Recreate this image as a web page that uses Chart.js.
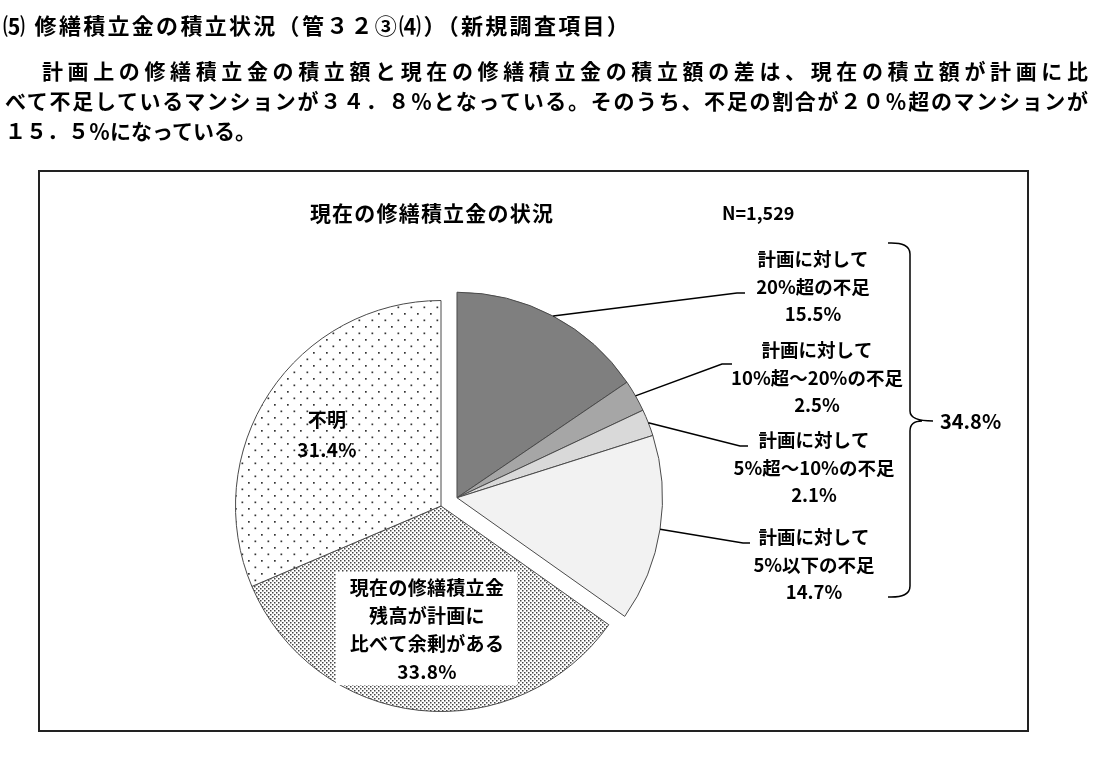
<!DOCTYPE html>
<html>
<head>
<meta charset="utf-8">
<script src="https://cdn.jsdelivr.net/npm/chart.js@4/dist/chart.umd.min.js"></script>
<style>
  body { margin: 0; background: #fff; width: 1103px; height: 757px; overflow: hidden; position: relative;
         font-family: "Noto Sans CJK JP", sans-serif; font-weight: bold; color: #000; }
  .t { position: absolute; line-height: 30px; }
  .j { text-align: justify; text-align-last: justify; }
  canvas { position: absolute; left: 0; top: 0; }
</style>
</head>
<body>
<canvas id="pie" width="1103" height="757"></canvas>
<div class="t" style="left:3px;top:9px;font-size:22px;letter-spacing:2.3px;white-space:nowrap">⑸ 修繕積立金の積立状況（管３２③⑷）（新規調査項目）</div>
<div class="t j" style="left:42px;top:55px;width:1046px;font-size:21px">計画上の修繕積立金の積立額と現在の修繕積立金の積立額の差は、現在の積立額が計画に比</div>
<div class="t j" style="left:5px;top:85px;width:1083px;font-size:21px">べて不足しているマンションが３４．８％となっている。そのうち、不足の割合が２０％超のマンションが</div>
<div class="t" style="left:5px;top:115px;font-size:21px;white-space:nowrap">１５．５％になっている。</div>
<script>
const categories = [
  '計画に対して20%超の不足',
  '計画に対して10%超～20%の不足',
  '計画に対して5%超～10%の不足',
  '計画に対して5%以下の不足',
  '現在の修繕積立金残高が計画に比べて余剰がある',
  '不明'
]
const values = [15.5, 2.5, 2.1, 14.7, 33.8, 31.4]
const labelLines = [
  ['計画に対して', '20%超の不足'],
  ['計画に対して', '10%超～20%の不足'],
  ['計画に対して', '5%超～10%の不足'],
  ['計画に対して', '5%以下の不足'],
  ['現在の修繕積立金', '残高が計画に', '比べて余剰がある'],
  ['不明']
]
const shortageGroup = [0, 1, 2, 3]
const chartTitle = '現在の修繕積立金の状況'
const sampleSize = 'N=1,529'

const canvas = document.getElementById('pie')
const ctx = canvas.getContext('2d')
const FONT = '"Noto Sans CJK JP", sans-serif'

function dots(w, h, pts, size, color) {
  const c = document.createElement('canvas')
  c.width = w
  c.height = h
  const x = c.getContext('2d')
  x.fillStyle = '#fff'
  x.fillRect(0, 0, w, h)
  x.fillStyle = color
  pts.forEach(p => x.fillRect(p[0], p[1], size, size))
  return ctx.createPattern(c, 'repeat')
}

const densePattern = dots(4, 4, [[0, 0], [2, 2]], 1.5, '#444')
const sparsePattern = dots(13, 13, [[1, 1], [7.5, 7.5]], 1.7, '#333')

const pct = v => v.toFixed(1) + '%'
const sum = a => a.reduce((s, v) => s + v, 0)

function textLines(lines, x, y, step, size, spacing) {
  ctx.font = 'bold ' + size + 'px ' + FONT
  ctx.letterSpacing = (spacing || 0) + 'px'
  ctx.textAlign = 'center'
  ctx.textBaseline = 'middle'
  ctx.fillStyle = '#000'
  lines.forEach((l, k) => ctx.fillText(l, x, y + k * step))
  ctx.letterSpacing = '0px'
}

// shift the shortage slices out together
const explode = {
  id: 'explode',
  afterDatasetsUpdate(chart) {
    const arcs = chart.getDatasetMeta(0).data
    const first = arcs[shortageGroup[0]]
    const last = arcs[shortageGroup[shortageGroup.length - 1]]
    const mid = (first.startAngle + last.endAngle) / 2
    shortageGroup.forEach(i => {
      arcs[i].x += Math.cos(mid) * 18
      arcs[i].y += Math.sin(mid) * 18
    })
  }
}

const frame = {
  id: 'frame',
  beforeDraw(chart) {
    const c = chart.ctx
    c.save()
    c.strokeStyle = '#222'
    c.lineWidth = 2
    c.strokeRect(39, 171, 989, 560)
    c.restore()
  }
}

const outsideLabel = [
  { elbow: [737, 293], end: [745, 293], x: 813, y: 259 },
  { elbow: [722, 364], end: [732, 364], x: 817, y: 350 },
  { elbow: [740, 446], end: [748, 446], x: 814, y: 440 },
  { elbow: [743, 543], end: [750, 543], x: 814, y: 537 }
]

const labels = {
  id: 'labels',
  afterDatasetsDraw(chart) {
    const arcs = chart.getDatasetMeta(0).data
    ctx.save()

    textLines([chartTitle], 432, 213, 0, 21, 1.2)
    ctx.font = 'bold 18px ' + FONT
    ctx.textAlign = 'left'
    ctx.fillText(sampleSize, 722, 213)

    // leader lines + labels for the shortage slices
    ctx.strokeStyle = '#000'
    ctx.lineWidth = 1.5
    shortageGroup.forEach((i, k) => {
      const a = arcs[i]
      const m = (a.startAngle + a.endAngle) / 2
      const o = outsideLabel[k]
      ctx.beginPath()
      ctx.moveTo(a.x + Math.cos(m) * a.outerRadius, a.y + Math.sin(m) * a.outerRadius)
      ctx.lineTo(o.elbow[0], o.elbow[1])
      ctx.lineTo(o.end[0], o.end[1])
      ctx.stroke()
      textLines(labelLines[i].concat(pct(values[i])), o.x, o.y, 27.5, 18.5, 0)
    })

    // brace for the total shortage
    ctx.beginPath()
    ctx.moveTo(888, 243)
    ctx.quadraticCurveTo(910, 242, 910, 254)
    ctx.lineTo(910, 411)
    ctx.quadraticCurveTo(910, 421, 933, 421)
    ctx.moveTo(910, 431)
    ctx.quadraticCurveTo(910, 421, 922, 421)
    ctx.moveTo(910, 431)
    ctx.lineTo(910, 586)
    ctx.quadraticCurveTo(910, 598, 888, 597)
    ctx.stroke()
    ctx.font = 'bold 20px ' + FONT
    ctx.textAlign = 'left'
    ctx.fillText(pct(sum(shortageGroup.map(i => values[i]))), 940, 421)

    // labels inside the pie
    ctx.fillStyle = '#fff'
    ctx.fillRect(336, 572, 181, 113)
    textLines(labelLines[4].concat(pct(values[4])), 427, 588, 28, 19, 0.3)
    textLines(labelLines[5].concat(pct(values[5])), 327, 420, 30, 19, 0.3)

    ctx.restore()
  }
}

new Chart(ctx, {
  type: 'pie',
  data: {
    labels: categories,
    datasets: [
      {
        data: values,
        backgroundColor: ['#7f7f7f', '#a6a6a6', '#d9d9d9', '#f2f2f2', densePattern, sparsePattern],
        borderColor: '#4a4a4a',
        borderWidth: 1
      }
    ]
  },
  options: {
    responsive: false,
    animation: false,
    layout: { padding: { left: 235, right: 456, top: 300, bottom: 45 } },
    plugins: {
      legend: { display: false },
      tooltip: { enabled: false }
    }
  },
  plugins: [frame, explode, labels]
})
</script>
</body>
</html>
